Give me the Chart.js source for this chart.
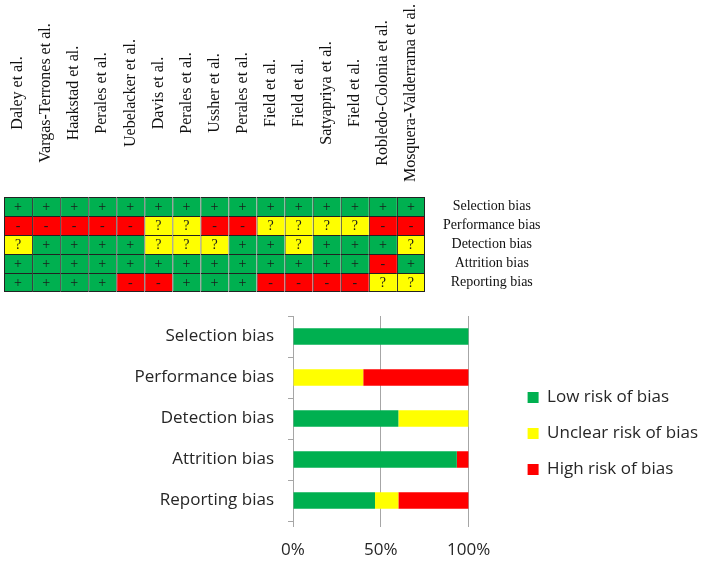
<!DOCTYPE html>
<html>
<head>
<meta charset="utf-8">
<script src="https://cdn.jsdelivr.net/npm/chart.js@4.4.0/dist/chart.umd.min.js"></script>
<style>
    body { margin: 0; background: #fff; }
    #wrap { position: relative; width: 708px; height: 562px; }
    canvas { position: absolute; left: 0; }
    #gridChart { top: 0; }
    #barChart { top: 300px; }
</style>
</head>
<body>
<div id="wrap">
    <canvas id="gridChart" width="560" height="300"></canvas>
    <canvas id="barChart" width="708" height="262"></canvas>
</div>
<script>
const studies = [
    "Daley et al.", "Vargas-Terrones et al.", "Haakstad et al.", "Perales et al.",
    "Uebelacker et al.", "Davis et al.", "Perales et al.", "Ussher et al.",
    "Perales et al.", "Field et al.", "Field et al.", "Satyapriya et al.",
    "Field et al.", "Robledo-Colonia et al.", "Mosquera-Valderrama et al."
];
const domains = ["Selection bias", "Performance bias", "Detection bias", "Attrition bias", "Reporting bias"];

// one mark per study: + low, ? unclear, - high
const selection   = ["+", "+", "+", "+", "+", "+", "+", "+", "+", "+", "+", "+", "+", "+", "+"];
const performance = ["-", "-", "-", "-", "-", "?", "?", "-", "-", "?", "?", "?", "?", "-", "-"];
const detection   = ["?", "+", "+", "+", "+", "?", "?", "?", "+", "+", "?", "+", "+", "+", "?"];
const attrition   = ["+", "+", "+", "+", "+", "+", "+", "+", "+", "+", "+", "+", "+", "-", "+"];
const reporting   = ["+", "+", "+", "+", "-", "-", "+", "+", "+", "-", "-", "-", "-", "?", "?"];
const ratings = [selection, performance, detection, attrition, reporting];

// summary percentages
const lowRisk     = [100, 0, 60, 93.3, 46.7];
const unclearRisk = [0, 40, 40, 0, 13.3];
const highRisk    = [0, 60, 0, 6.7, 40];

const GREEN = "#00B050", YELLOW = "#FFFF00", RED = "#FF0000";
const markColor = { "+": GREEN, "?": YELLOW, "-": RED };

const columnLabels = {
    id: "columnLabels",
    afterDraw(chart) {
        const ctx = chart.ctx;
        const x = chart.scales.x;
        ctx.save();
        ctx.font = '16px "Liberation Serif"';
        ctx.fillStyle = "#111";
        ctx.textAlign = "center";
        ctx.textBaseline = "middle";
        studies.forEach((name, i) => {
            ctx.save();
            ctx.translate(x.getPixelForValue(i), 93);
            ctx.rotate(-Math.PI / 2);
            ctx.fillText(name, 0, 0);
            ctx.restore();
        });
        ctx.restore();
    }
};

const cellMarks = {
    id: "cellMarks",
    afterDatasetsDraw(chart) {
        const ctx = chart.ctx;
        ctx.save();
        ctx.font = '14px "Liberation Serif"';
        ctx.fillStyle = "#1a1a1a";
        ctx.textAlign = "center";
        ctx.textBaseline = "middle";
        chart.data.datasets.forEach((ds, di) => {
            chart.getDatasetMeta(di).data.forEach((bar, i) => {
                ctx.fillText(ds.marks[i], bar.x, (bar.y + bar.base) / 2 + 1);
            });
        });
        ctx.restore();
    }
};

// vertical axes add label padding above/below the plot; drop it so layout padding rules
function noEndPadding(s) {
    s.paddingTop = 0;
    s.paddingBottom = 0;
}

// empty axis used only to reserve space
function spacer(position, size) {
    return {
        type: "linear",
        position: position,
        grid: { display: false },
        border: { display: false },
        ticks: { display: false },
        afterFit: (s) => {
            if (s.isHorizontal()) { s.height = size; s.paddingLeft = 0; s.paddingRight = 0; }
            else { s.width = size; noEndPadding(s); }
        },
    };
}

// grid: one stacked bar per study, one segment per domain (bottom row first)
var gridSets = ratings.map((row, r) => ({
    label: domains[r],
    marks: row,
    data: row.map(() => 1),
    backgroundColor: row.map((m) => markColor[m]),
    borderColor: "#222",
    borderSkipped: false,
    inflateAmount: 0,
    borderWidth: (c) => ({
        top: 1,
        left: 1,
        right: c.dataIndex === studies.length - 1 ? 1 : 0,
        bottom: c.datasetIndex === 0 ? 1 : 0,
    }),
})).reverse();

new Chart(document.getElementById("gridChart"), {
    type: "bar",
    data: { labels: studies, datasets: gridSets },
    options: {
        responsive: false,
        animation: false,
        layout: { padding: { left: 4, top: 197, bottom: 8, right: 0 } },
        datasets: { bar: { barPercentage: 1, categoryPercentage: 1 } },
        plugins: { legend: { display: false }, tooltip: { enabled: false } },
        scales: {
            x: { display: false, stacked: true },
            y: { display: false, stacked: true, min: 0, max: 5 },
            rows: {
                type: "category",
                position: "right",
                labels: domains,
                offset: true,
                grid: { drawOnChartArea: false, drawTicks: true, tickLength: 18, color: "rgba(0,0,0,0)" },
                border: { display: false },
                ticks: {
                    autoSkip: false,
                    crossAlign: "center",
                    padding: 0,
                    color: "#111",
                    font: { family: "Liberation Serif", size: 14 },
                },
                afterFit: (s) => { s.width = 135; noEndPadding(s); },
            },
        },
    },
    plugins: [columnLabels, cellMarks],
});

const axisFont = { family: "Open Sans", size: 17 };
const textColor = "#262626";
const lineColor = "#a6a6a6";

new Chart(document.getElementById("barChart"), {
    type: "bar",
    data: {
        labels: domains,
        datasets: [
            { label: "Low risk of bias", data: lowRisk, backgroundColor: GREEN },
            { label: "Unclear risk of bias", data: unclearRisk, backgroundColor: YELLOW },
            { label: "High risk of bias", data: highRisk, backgroundColor: RED },
        ],
    },
    options: {
        indexAxis: "y",
        responsive: false,
        animation: false,
        layout: { padding: { top: 5, bottom: 0, left: 0, right: 0 } },
        datasets: { bar: { categoryPercentage: 0.8, barPercentage: 0.5 } },
        plugins: {
            tooltip: { enabled: false },
            legend: {
                position: "right",
                maxWidth: 300,
                labels: {
                    boxWidth: 11,
                    boxHeight: 11,
                    padding: 19,
                    color: textColor,
                    font: axisFont,
                },
            },
        },
        scales: {
            x: {
                stacked: true,
                min: 0,
                max: 100,
                ticks: {
                    stepSize: 50,
                    padding: 13,
                    color: textColor,
                    font: axisFont,
                    callback: (v) => v + "%",
                },
                grid: { color: lineColor, tickLength: 6 },
                border: { display: false },
                afterFit: (s) => { s.height = 41; },
            },
            y: {
                stacked: true,
                offset: true,
                grid: { offset: true, drawOnChartArea: false, tickLength: 5, color: lineColor },
                border: { color: lineColor },
                ticks: { autoSkip: false, padding: 14, color: textColor, font: axisFont },
                afterFit: (s) => { s.width = 293; noEndPadding(s); },
            },
            gapTop: spacer("top", 11),
            gapRight: spacer("right", 40),
        },
    },
});
</script>
</body>
</html>
